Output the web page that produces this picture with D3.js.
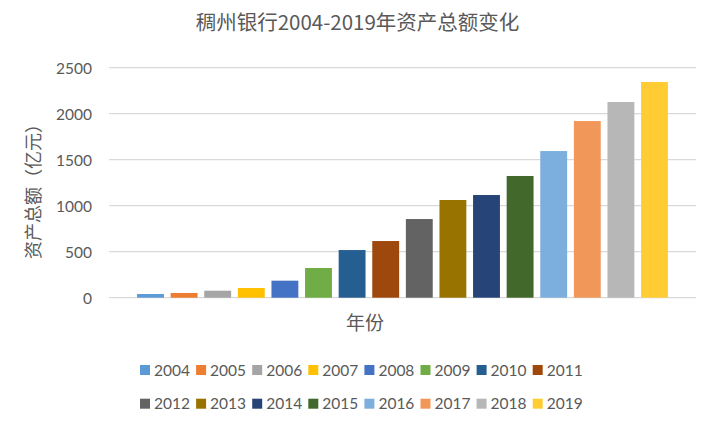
<!DOCTYPE html>
<html>
<head>
<meta charset="utf-8">
<script src="https://cdn.jsdelivr.net/npm/d3@7/dist/d3.min.js"></script>
<style>
  html, body { margin: 0; padding: 0; background: #fff; }
  svg { display: block; }
</style>
</head>
<body>
<svg id="chart" width="715" height="427"></svg>
<script>
const years = ["2004","2005","2006","2007","2008","2009","2010","2011","2012","2013","2014","2015","2016","2017","2018","2019"];
const assets = [40, 51, 76, 105, 185, 323, 518, 616, 855, 1062, 1116, 1323, 1594, 1920, 2127, 2345];
const colors = ["#5B9BD5","#ED7D31","#A5A5A5","#FFC000","#4472C4","#70AD47","#255E91","#9E480E","#636363","#997300","#264478","#43682B","#7CAFDD","#F1975A","#B7B7B7","#FFCD33"];
const yTicks = [0, 500, 1000, 1500, 2000, 2500];
const title = "稠州银行2004-2019年资产总额变化";
const yTitle = "资产总额（亿元）";
const xTitle = "年份";

const svg = d3.select("#chart");
const cjk = "'Noto Sans CJK SC', 'Noto Sans', sans-serif";
const num = "Lato, 'Noto Sans', sans-serif";
const textColor = "#595959";

const plot = { left: 109, right: 696, top: 67.7, bottom: 297.7 };

const x = d3.scaleBand().domain(years).range([plot.left, plot.right]).paddingInner(0.2).paddingOuter(0.835);
const y = d3.scaleLinear().domain([0, 2500]).range([plot.bottom, plot.top]);

// gridlines
svg.append("g").selectAll("line").data(yTicks).join("line")
  .attr("x1", plot.left).attr("x2", plot.right)
  .attr("y1", d => y(d)).attr("y2", d => y(d))
  .attr("stroke", "#d9d9d9").attr("stroke-width", 1.3);

// y axis labels
const yAxis = d3.axisLeft(y).tickValues(yTicks).tickFormat(d3.format("d")).tickSize(0).tickPadding(0);
const gy = svg.append("g").attr("transform", `translate(92,0)`).call(yAxis);
gy.select(".domain").remove();
gy.selectAll("text").attr("font-family", num).attr("font-size", 15.5).attr("fill", textColor).attr("dy", "0.35em");

// bars
svg.append("g").selectAll("rect").data(years).join("rect")
  .attr("x", d => x(d)).attr("width", x.bandwidth())
  .attr("y", (d, i) => y(assets[i]))
  .attr("height", (d, i) => y(0) - y(assets[i]))
  .attr("fill", (d, i) => colors[i]);

// title
svg.append("text").attr("x", 357.5).attr("y", 30).attr("text-anchor", "middle")
  .attr("font-family", cjk).attr("font-size", 20.5).attr("fill", textColor).text(title);

// y title
svg.append("text").attr("transform", "translate(40,187) rotate(-90)").attr("text-anchor", "middle")
  .attr("font-family", cjk).attr("font-size", 18).attr("fill", textColor).text(yTitle);

// x title
svg.append("text").attr("x", 365).attr("y", 330).attr("text-anchor", "middle")
  .attr("font-family", cjk).attr("font-size", 19).attr("fill", textColor).text(xTitle);

// legend
const perRow = 8;
const lx = d3.scaleLinear().domain([0, 7]).range([140, 532.7]);
const ly = d3.scaleLinear().domain([0, 1]).range([370, 403.7]);
const items = svg.append("g").selectAll("g").data(years).join("g")
  .attr("transform", (d, i) => `translate(${lx(i % perRow)},${ly(Math.floor(i / perRow))})`);
items.append("rect").attr("x", 0).attr("y", -5).attr("width", 10).attr("height", 10)
  .attr("fill", (d, i) => colors[i]);
items.append("text").attr("x", 14).attr("y", 0).attr("dy", "0.36em")
  .attr("font-family", num).attr("font-size", 15.5).attr("fill", textColor).text(d => d);
</script>
</body>
</html>
